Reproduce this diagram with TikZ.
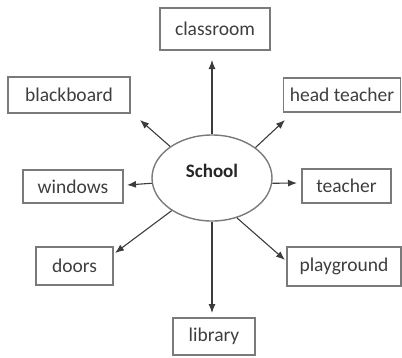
\documentclass[tikz,border=0pt]{standalone}
\usepackage{fontspec}
\setmainfont{Carlito}
\usetikzlibrary{shapes.geometric,arrows.meta}
\definecolor{boxgray}{HTML}{7A7A7A}
\definecolor{txtgray}{HTML}{3E3E3E}
\definecolor{arrgray}{HTML}{3C3C3C}
\begin{document}
\begin{tikzpicture}[x=1pt,y=-1pt,
  box/.style={draw=boxgray,line width=1.4pt,inner sep=0pt,text=txtgray,
    font=\fontsize{19.5}{22}\selectfont},
  arr/.style={draw=arrgray,line width=1.1pt,-{Latex[length=9pt,width=7pt]}}]
\useasboundingbox (0,0) rectangle (402,357);
\node[box,minimum width=110pt,minimum height=42pt] (classroom) at (215,29) {classroom};
\node[box,minimum width=122pt,minimum height=36pt] (blackboard) at (69,95) {blackboard};
\node[box,minimum width=117pt,minimum height=34pt] (head) at (342,95) {head teacher};
\node[box,minimum width=100pt,minimum height=33pt] (windows) at (73,186.5) {windows};
\node[box,minimum width=89pt,minimum height=34pt] (teacher) at (346.5,186) {teacher};
\node[box,minimum width=77pt,minimum height=38pt] (doors) at (74.5,266) {doors};
\node[box,minimum width=114pt,minimum height=39pt] (playground) at (344,266.5) {playground};
\node[box,minimum width=82pt,minimum height=37pt] (library) at (214,336.5) {library};
\node[ellipse,draw=boxgray,line width=1.4pt,minimum width=120pt,minimum height=86pt,inner sep=0pt] (school) at (212,178) {};
\node[text=black!85,font=\fontsize{19}{22}\selectfont\bfseries] (schooltxt) at (212,171) {School};
\coordinate (tcl) at (212,60);
\coordinate (tbb) at (140,120);
\coordinate (tht) at (285,120);
\coordinate (twi) at (127,185);
\coordinate (tte) at (297,183);
\coordinate (tdo) at (115,253);
\coordinate (tpl) at (285,260);
\coordinate (tli) at (212,313);
\draw[arr] (school.90) -- (tcl);
\draw[arr] (school.143) -- (tbb);
\draw[arr] (school.35) -- (tht);
\draw[arr] (school.185) -- (twi);
\draw[arr] (school.-5) -- (tte);
\draw[arr] (school.219) -- (tdo);
\draw[arr] (school.302) -- (tpl);
\draw[arr] (school.270) -- (tli);
\end{tikzpicture}
\end{document}
